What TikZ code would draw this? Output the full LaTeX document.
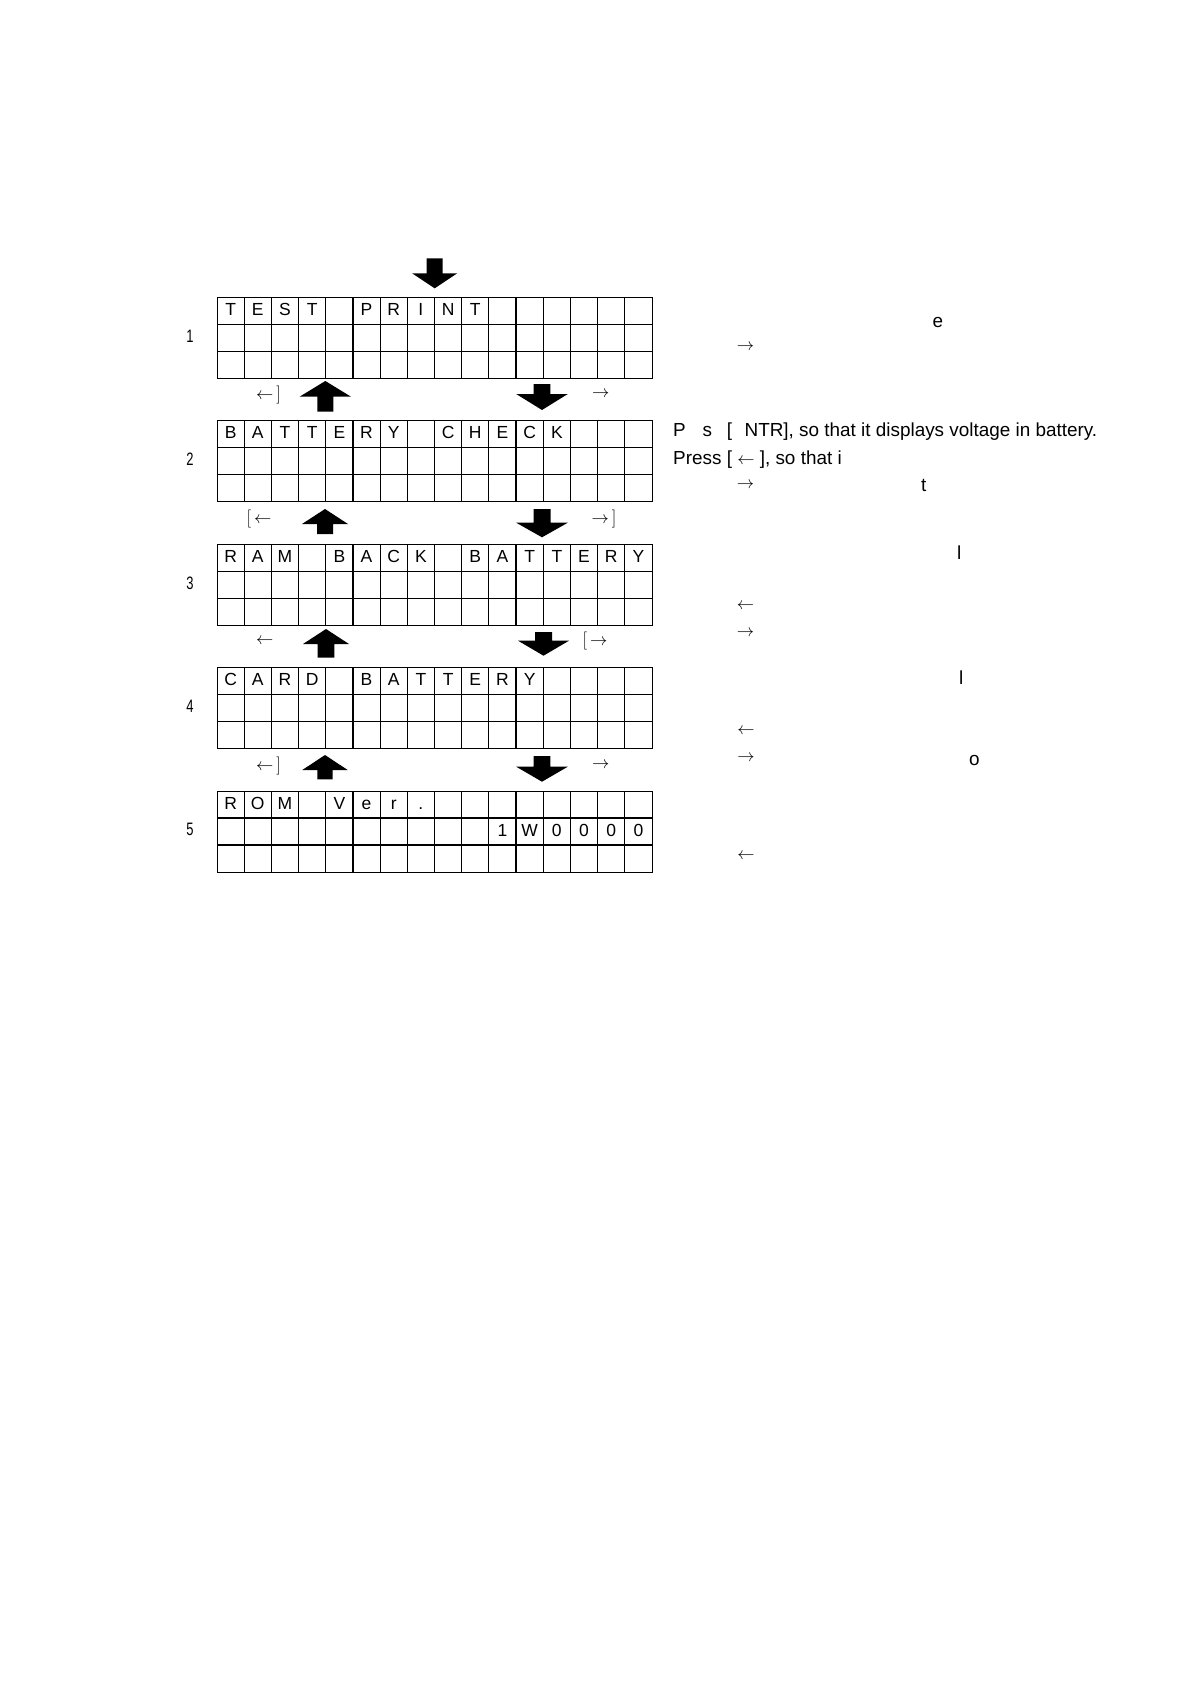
\documentclass[tikz,border=0pt]{standalone}
\usepackage{fontspec}
\newfontfamily\arial{Liberation Sans}
\newfontfamily\narrowfont[FakeStretch=0.72]{Liberation Sans}
\tikzset{
  lcd/.style={draw, line width=1.15pt, minimum width=435pt, minimum height=81pt, inner sep=0pt},
  gridline/.style={line width=1.15pt},
  cellchar/.style={font=\arial\fontsize{17.5}{17.5}\selectfont, anchor=base, inner sep=0pt},
  blockarrow/.style={fill=black, draw=none},
  keylabel/.style={font=\fontsize{18}{18}\selectfont, inner sep=0pt, anchor=west},
  bodytext/.style={font=\arial\fontsize{18.9}{22}\selectfont, anchor=base west, inner sep=0pt},
  arrowtext/.style={font=\fontsize{18}{18}\selectfont, inner sep=0pt},
  numlabel/.style={font=\narrowfont\fontsize{18}{18}\selectfont, inner sep=0pt},
}
\newcommand\lcdgrid[2]{%
  \node[lcd, anchor=north west] (#1) at (217,#2) {};
  \foreach \k in {1,...,15}
    \draw[gridline] ([xshift=\k*27.1875pt]#1.north west) -- ([xshift=\k*27.1875pt]#1.south west);
  \foreach \r in {1,2}
    \draw[gridline] ([yshift=-\r*27pt]#1.north west) -- ([yshift=-\r*27pt]#1.north east);
}
\newcommand\lcdrow[4]{%
  \foreach \i/\c in {#4}
    \node[cellchar, name=#1-#3-\i] at ({217+(\i-0.5)*27.1875}, {#2+(#3-1)*27+18.6}) {\c};
}
% down block arrow: cx, top, head base, tip, shaft half, head half
\newcommand\DnBlock[6]{%
  \fill[blockarrow] ({#1-#5},#2) -- ({#1+#5},#2) -- ({#1+#5},#3) -- ({#1+#6},#3)
    -- (#1,#4) -- ({#1-#6},#3) -- ({#1-#5},#3) -- cycle;}
% up block arrow: cx, tip, head base, bottom, shaft half, head half
\newcommand\UpBlock[6]{%
  \fill[blockarrow] (#1,#2) -- ({#1+#6},#3) -- ({#1+#5},#3) -- ({#1+#5},#4)
    -- ({#1-#5},#4) -- ({#1-#5},#3) -- ({#1-#6},#3) -- cycle;}
\begin{document}
\begin{tikzpicture}[x=1pt,y=-1pt]
\fill[white] (0,0) rectangle (1190,1684);
\useasboundingbox (0,0) rectangle (1190,1684);

% top arrow
\DnBlock{434.7}{258.3}{273.3}{288.3}{8}{22.5}

% displays
\lcdgrid{d1}{297.3}
\lcdgrid{d2}{420.3}
\lcdgrid{d3}{544.3}
\lcdgrid{d4}{667.3}
\lcdgrid{d5}{791}

\lcdrow{d1}{297.3}{1}{1/T,2/E,3/S,4/T,6/P,7/R,8/I,9/N,10/T}
\lcdrow{d2}{420.3}{1}{1/B,2/A,3/T,4/T,5/E,6/R,7/Y,9/C,10/H,11/E,12/C,13/K}
\lcdrow{d3}{544.3}{1}{1/R,2/A,3/M,5/B,6/A,7/C,8/K,10/B,11/A,12/T,13/T,14/E,15/R,16/Y}
\lcdrow{d4}{667.3}{1}{1/C,2/A,3/R,4/D,6/B,7/A,8/T,9/T,10/E,11/R,12/Y}
\lcdrow{d5}{791}{1}{1/R,2/O,3/M,5/V,6/e,7/r,8/.}
\lcdrow{d5}{791}{2}{11/1,12/W,13/0,14/0,15/0,16/0}

% numbers
\node[numlabel] (n1) at (190,336) {1};
\node[numlabel] (n2) at (190,459) {2};
\node[numlabel] (n3) at (190,583) {3};
\node[numlabel] (n4) at (190,706) {4};
\node[numlabel] (n5) at (190,829.5) {5};

% gap 1-2
\UpBlock{325.3}{381}{396.7}{411.7}{8}{25.7}
\DnBlock{542}{384}{394}{410}{8.35}{25.8}
\node[keylabel] (k1l) at (256,395) {$\leftarrow$\,]};
\node[keylabel] (k1r) at (592,394) {$\rightarrow$};

% gap 2-3
\UpBlock{325}{509}{524}{534}{8}{23}
\DnBlock{542}{509}{522.7}{537.3}{8.5}{25.8}
\node[keylabel] (k2l) at (246.5,519) {[\hspace{3pt}$\leftarrow$};
\node[keylabel] (k2r) at (591.5,518.5) {$\rightarrow$\,]};

% gap 3-4
\UpBlock{326}{629}{644}{657.7}{8.3}{23}
\DnBlock{543.5}{632}{640.7}{655.7}{8.5}{25.5}
\node[keylabel] (k3l) at (256,641) {$\leftarrow$};
\node[keylabel] (k3r) at (582.5,641) {[\hspace{3pt}$\rightarrow$};

% gap 4-5
\UpBlock{325}{755}{770}{779.3}{7.7}{22.7}
\DnBlock{542}{756}{766.7}{781.7}{8.35}{25.8}
\node[keylabel] (k4l) at (256,766) {$\leftarrow$\,]};
\node[keylabel] (k4r) at (592,765) {$\rightarrow$};

% right column text
\node[bodytext] (t1) at (932.5,327.3) {e};
\node[arrowtext] (a1) at (745.5,347) {$\rightarrow$};
\node[bodytext] (t2) at (673,436.7) {P\phantom{re}s\phantom{s} [\phantom{E}NTR], so that it displays voltage in battery.};
\node[bodytext] (t3) at (673,464.3) {Press [ {\fontsize{18}{18}\selectfont$\leftarrow$} ], so that i};
\node[arrowtext] (a2) at (745.5,485) {$\rightarrow$};
\node[bodytext] (t4) at (921,491) {t};
\node[bodytext] (t5) at (957,559.3) {l};
\node[arrowtext] (a3) at (745.5,606) {$\leftarrow$};
\node[arrowtext] (a4) at (745.5,633) {$\rightarrow$};
\node[bodytext] (t6) at (959,684) {l};
\node[arrowtext] (a5) at (746,731) {$\leftarrow$};
\node[arrowtext] (a6) at (746,758) {$\rightarrow$};
\node[bodytext] (t7) at (969,765) {o};
\node[arrowtext] (a7) at (746,856) {$\leftarrow$};
\end{tikzpicture}
\end{document}
